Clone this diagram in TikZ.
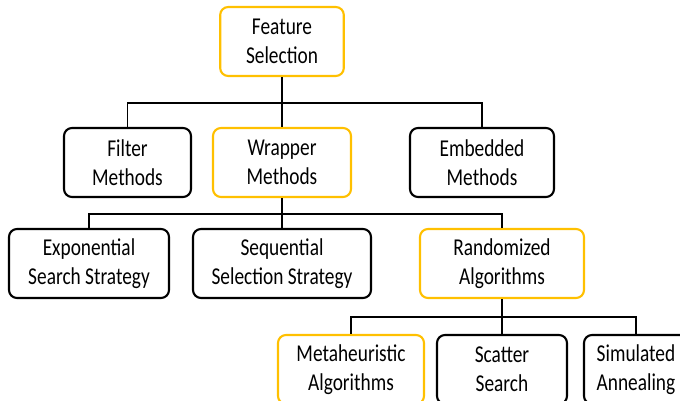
\documentclass[tikz,border=0pt]{standalone}
\usepackage{fontspec}
\setmainfont{Carlito}[FakeStretch=0.8]
\usetikzlibrary{positioning}
\definecolor{boxgold}{HTML}{FFC000}

\begin{document}
\begin{tikzpicture}[
    box/.style={draw=black,line width=1.5pt,rounded corners=0.2cm,fill=white,
      text=black,align=center,minimum height=1.725cm,inner sep=0pt,
      font=\fontsize{17.2}{20.4}\selectfont},
    goldbox/.style={box,draw=boxgold},
    link/.style={line width=1.3pt,black}]
  \clip (0,0) rectangle (17,-10.025);
  \fill[white] (0,0) rectangle (17,-10.025);

  \node[goldbox,minimum width=3.09cm] (fs) at (7.05,-1.0375) {Feature\\Selection};

  \node[box,minimum width=3.175cm] (filter) at (3.1875,-4.0625) {Filter\\Methods};
  \node[goldbox,minimum width=3.45cm] (wrap) at (7.05,-4.0625) {Wrapper\\Methods};
  \node[box,minimum width=3.6cm] (embed) at (12.05,-4.0625) {Embedded\\Methods};

  \node[box,minimum width=4cm] (expo) at (2.225,-6.5875) {Exponential\\Search Strategy};
  \node[box,minimum width=4.45cm] (seq) at (7.05,-6.5875) {Sequential\\Selection Strategy};
  \node[goldbox,minimum width=4.1cm] (rand) at (12.55,-6.5875) {Randomized\\Algorithms};

  \node[goldbox,minimum width=3.65cm] (meta) at (8.775,-9.2375) {Metaheuristic\\Algorithms};
  \node[box,minimum width=3.25cm] (scat) at (12.55,-9.2375) {Scatter\\Search};
  \node[box,minimum width=2.6cm] (anneal) at (15.9,-9.2375) {Simulated\\Annealing};

  % joints of the branches
  \coordinate (j1) at (7.05,-2.575);
  \coordinate (j2) at (7.05,-5.35);
  \coordinate (j3) at (12.55,-7.925);

  \draw[link] (fs.south) -- (wrap.north);
  \draw[link] (filter.north) |- (j1) -| (embed.north);
  \draw[link] (wrap.south) -- (seq.north);
  \draw[link] (expo.north) |- (j2) -| (rand.north);
  \draw[link] (rand.south) -- (scat.north);
  \draw[link] (meta.north) |- (j3) -| (anneal.north);
\end{tikzpicture}
\end{document}
